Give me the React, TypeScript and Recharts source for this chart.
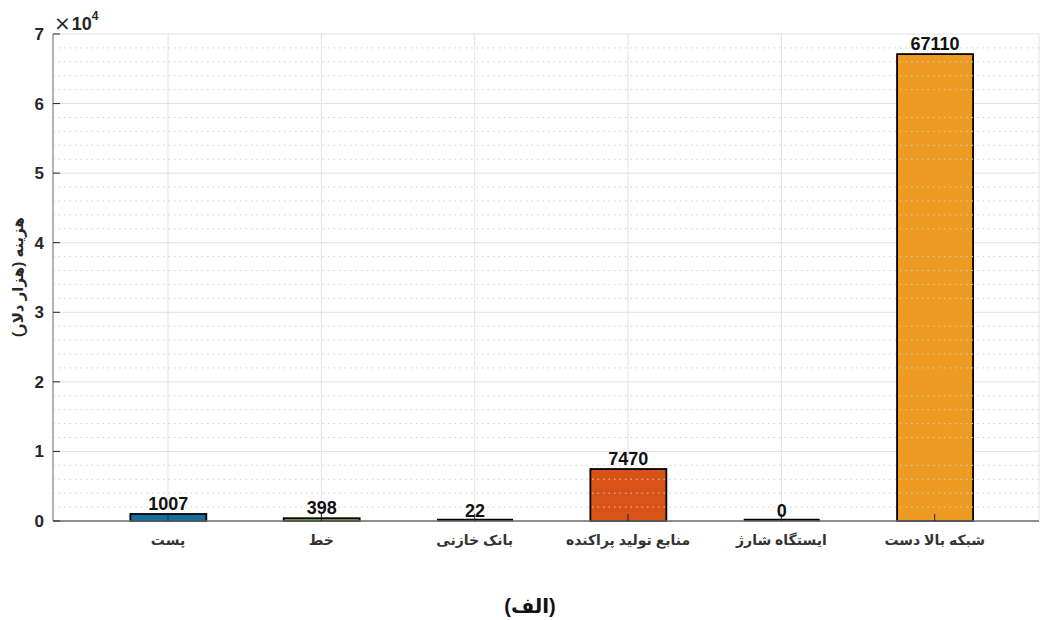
import React from "react";
import {
  BarChart,
  Bar,
  XAxis,
  YAxis,
  CartesianGrid,
  ReferenceLine,
  LabelList,
  Cell,
} from "recharts";

const categories = [
  "پست",
  "خط",
  "بانک خازنی",
  "منابع تولید پراکنده",
  "ایستگاه شارژ",
  "شبکه بالا دست",
];
const costValues = [1007, 398, 22, 7470, 0, 67110];
const barColors = ["#0f6f9f", "#77ac30", "#7e2f8e", "#d95319", "#4dbeee", "#ee9b23"];
const xPositions = [1, 2, 3, 4, 5, 6];
const yTicks = [0, 10000, 20000, 30000, 40000, 50000, 60000, 70000];
const minorTicks = [
  2000, 4000, 6000, 8000, 12000, 14000, 16000, 18000, 22000, 24000, 26000, 28000,
  32000, 34000, 36000, 38000, 42000, 44000, 46000, 48000, 52000, 54000, 56000, 58000,
  62000, 64000, 66000, 68000,
];
const yLabel = "هزینه (هزار دلار)";
const titleText = "(الف)";

const data = categories.map((name, i) => ({ x: xPositions[i], name, value: costValues[i] }));

const FONT = "'Liberation Sans', Arial, 'DejaVu Sans', sans-serif";
const AXIS_COLOR = "#6e6e6e";

const BottomTick = (props: any) => {
  const { x, y, payload } = props;
  const label = categories[Math.round(payload.value) - 1];
  return (
    <g>
      <line x1={x} y1={y} x2={x} y2={y - 7} stroke="#262626" strokeWidth={1} />
      <text
        x={x}
        y={y + 24}
        textAnchor="middle"
        fontFamily={FONT}
        fontWeight="bold"
        fontSize={14}
        fill="#333333"
      >
        {label}
      </text>
    </g>
  );
};

const TopTick = (props: any) => {
  const { x, y } = props;
  return <line x1={x} y1={y} x2={x} y2={y + 7} stroke="#262626" strokeWidth={1} />;
};

const LeftTick = (props: any) => {
  const { x, y, payload } = props;
  return (
    <g>
      <line x1={x} y1={y} x2={x + 7} y2={y} stroke="#262626" strokeWidth={1} />
      <text
        x={x - 9}
        y={y + 6}
        textAnchor="end"
        fontFamily={FONT}
        fontWeight="bold"
        fontSize={17}
        fill="#262626"
      >
        {String(payload.value / 10000)}
      </text>
    </g>
  );
};

const RightTick = (props: any) => {
  const { x, y } = props;
  return <line x1={x} y1={y} x2={x - 6} y2={y} stroke="#262626" strokeWidth={1} />;
};

const BarShape = (props: any) => {
  const { x, y, width, height, fill } = props;
  if (!(height >= 1.2)) {
    const base = (y || 0) + (height || 0);
    return <line x1={x} x2={x + width} y1={base - 1} y2={base - 1} stroke="#000" strokeWidth={2.5} />;
  }
  return (
    <rect x={x} y={y} width={width} height={height} fill={fill} stroke="#000" strokeWidth={1.8} />
  );
};

export default function App() {
  return (
    <div style={{ position: "absolute", left: 0, top: 0, width: 1040, height: 620, background: "#fff" }}>
      <BarChart
        width={1040}
        height={620}
        data={data}
        margin={{ top: 34, right: 1, left: 0, bottom: 0 }}
        barSize={76}
      >
        <CartesianGrid stroke="#e2e2e2" strokeWidth={1} horizontal={true} vertical={true} />
        {minorTicks.map((v) => (
          <ReferenceLine
            key={v}
            y={v}
            stroke="#cfcfcf"
            strokeDasharray="1.5 4"
            strokeWidth={1}
            ifOverflow="hidden"
          />
        ))}
        <XAxis
          dataKey="x"
          type="number"
          domain={[0.25, 6.68]}
          ticks={xPositions}
          allowDataOverflow
          height={99}
          tickSize={0}
          tickMargin={0}
          tickLine={false}
          axisLine={{ stroke: AXIS_COLOR, strokeWidth: 1.6 }}
          tick={<BottomTick />}
          interval={0}
        />
        <XAxis
          xAxisId="top"
          orientation="top"
          dataKey="x"
          type="number"
          domain={[0.25, 6.68]}
          ticks={xPositions}
          allowDataOverflow
          height={0}
          tickSize={0}
          tickMargin={0}
          tickLine={false}
          axisLine={{ stroke: "#8a8a8a", strokeWidth: 1.4 }}
          tick={<TopTick />}
          interval={0}
        />
        <YAxis
          type="number"
          domain={[0, 70000]}
          ticks={yTicks}
          width={53}
          tickSize={0}
          tickMargin={0}
          tickLine={false}
          axisLine={{ stroke: "#8a8a8a", strokeWidth: 1.2 }}
          tick={<LeftTick />}
          interval={0}
        />
        <YAxis
          yAxisId="right"
          orientation="right"
          type="number"
          domain={[0, 70000]}
          ticks={yTicks}
          width={0}
          tickSize={0}
          tickMargin={0}
          tickLine={false}
          axisLine={false}
          tick={<RightTick />}
          interval={0}
        />
        <Bar dataKey="value" isAnimationActive={false} shape={<BarShape />}>
          {data.map((d, i) => (
            <Cell key={d.name} fill={barColors[i]} />
          ))}
          <LabelList
            dataKey="value"
            position="top"
            offset={4}
            fill="#111"
            fontFamily={FONT}
            fontWeight="bold"
            fontSize={18}
          />
        </Bar>
      </BarChart>
      <svg
        width={1040}
        height={620}
        style={{ position: "absolute", left: 0, top: 0, pointerEvents: "none" }}
      >
        <text x={54} y={30} fill="#262626">
          <tspan fontFamily="'DejaVu Sans', sans-serif" fontSize={20}>×</tspan>
          <tspan fontFamily={FONT} fontSize={18} fontWeight="bold" dx={1}>10</tspan>
          <tspan fontFamily={FONT} fontSize={12} dy={-10} fontWeight="bold">4</tspan>
        </text>
        <text
          x={0}
          y={0}
          transform="translate(23,277) rotate(-90)"
          textAnchor="middle"
          fontFamily={FONT}
          fontWeight="bold"
          fontSize={15}
          fill="#262626"
        >
          {yLabel}
        </text>
        <text
          x={530}
          y={613}
          textAnchor="middle"
          fontFamily={FONT}
          fontWeight="bold"
          fontSize={20}
          fill="#111"
        >
          {titleText}
        </text>
      </svg>
    </div>
  );
}
